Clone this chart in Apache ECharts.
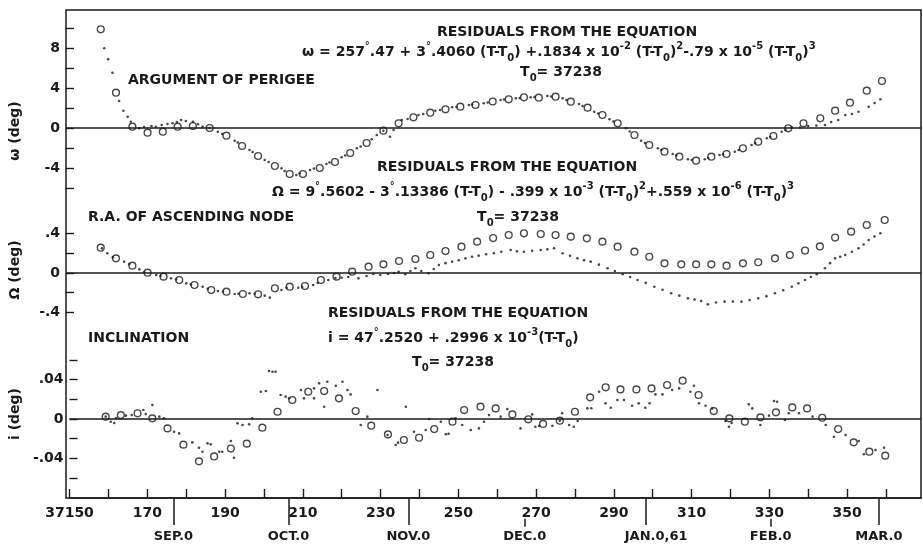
<!DOCTYPE html>
<html><head><meta charset="utf-8">
<script src="https://cdn.jsdelivr.net/npm/echarts@6/dist/echarts.min.js"></script>
<style>html,body{margin:0;padding:0;background:#fff}#c{width:923px;height:550px}</style>
</head><body><div id="c"></div>
<script>
// ---------- data ----------
const omegaCircles = [[158.9,9.87],[162.8,3.53],[167.0,0.13],[170.9,-0.47],[174.8,-0.37],[178.6,0.13],[182.5,0.2],[186.8,0.0],[191.1,-0.77],[195.1,-1.8],[199.2,-2.8],[203.5,-3.8],[207.3,-4.6],[210.7,-4.6],[215.0,-4.0],[218.9,-3.4],[222.8,-2.5],[227.0,-1.5],[231.3,-0.27],[235.2,0.47],[239.0,1.07],[243.3,1.53],[247.2,1.87],[251.0,2.13],[254.9,2.3],[259.3,2.65],[263.4,2.87],[267.3,3.07],[271.1,3.03],[275.4,3.13],[279.3,2.63],[283.6,2.03],[287.4,1.3],[291.3,0.47],[295.6,-0.7],[299.4,-1.7],[303.3,-2.37],[307.1,-2.87],[311.4,-3.27],[315.3,-2.87],[319.2,-2.6],[323.4,-2.03],[327.3,-1.37],[331.2,-0.8],[335.0,-0.03],[338.9,0.47],[343.2,0.97],[347.0,1.73],[350.8,2.53],[355.1,3.73],[359.0,4.7]];
const omegaDots = [[159.8,7.97],[160.8,6.87],[161.9,5.53],[163.6,2.7],[164.7,1.73],[165.8,1.13],[166.6,0.63],[168.8,-0.03],[170.0,0.1],[171.9,0.2],[173.0,0.13],[174.5,0.3],[176.0,0.4],[177.3,0.47],[178.4,0.6],[179.5,0.8],[180.7,0.7],[182.5,0.63],[183.8,0.37],[185.0,0.13],[186.8,0.0],[188.9,-0.37],[190.0,-0.6],[193.2,-1.27],[194.0,-1.45],[197.0,-2.2],[197.8,-2.4],[200.9,-3.2],[201.9,-3.4],[205.2,-4.03],[206.0,-4.3],[209.0,-4.7],[209.8,-4.55],[212.5,-4.2],[213.5,-4.05],[216.7,-3.6],[217.5,-3.45],[220.6,-2.93],[221.5,-2.75],[224.5,-2.03],[225.5,-1.85],[228.3,-1.13],[229.6,-0.7],[231.3,-0.27],[233.0,-0.87],[233.9,-0.2],[236.0,0.8],[237.5,0.9],[240.3,1.3],[241.5,1.4],[244.6,1.73],[245.8,1.8],[248.9,2.07],[250.0,2.1],[253.2,2.3],[254.0,2.35],[257.0,2.47],[258.0,2.55],[261.3,2.8],[262.2,2.85],[265.2,2.97],[266.2,3.0],[269.0,3.07],[270.0,3.1],[273.3,3.2],[274.3,3.15],[277.2,2.97],[278.2,2.8],[281.4,2.4],[282.3,2.2],[285.3,1.63],[286.3,1.45],[289.2,0.87],[290.2,0.65],[293.4,-0.03],[294.4,-0.35],[297.3,-1.27],[298.3,-1.5],[301.6,-2.03],[302.5,-2.2],[305.4,-2.6],[306.3,-2.75],[309.3,-3.13],[310.3,-3.2],[313.6,-3.13],[314.5,-3.0],[317.4,-2.7],[318.3,-2.65],[321.3,-2.37],[322.3,-2.2],[325.6,-1.7],[326.5,-1.5],[329.5,-1.03],[330.4,-0.9],[333.3,-0.37],[334.3,-0.2],[335.9,0.07],[338.0,0.05],[340.1,0.2],[342.2,0.25],[344.4,0.3],[346.0,0.6],[347.8,0.8],[349.6,1.3],[351.3,1.4],[353.0,1.63],[355.6,2.13],[357.1,2.5],[358.6,2.87]];

const nodeCircles = [[158.9,0.257],[162.8,0.149],[167.0,0.074],[170.9,0.003],[175.0,-0.037],[179.0,-0.071],[182.9,-0.122],[187.2,-0.173],[191.1,-0.19],[195.3,-0.213],[199.2,-0.216],[203.5,-0.155],[207.3,-0.139],[211.2,-0.132],[215.3,-0.071],[219.3,-0.037],[223.3,0.013],[227.5,0.064],[231.3,0.088],[235.3,0.122],[239.5,0.142],[243.3,0.183],[247.2,0.223],[251.3,0.267],[255.3,0.318],[259.4,0.355],[263.4,0.386],[267.3,0.403],[271.6,0.396],[275.4,0.386],[279.3,0.369],[283.4,0.352],[287.4,0.318],[291.3,0.267],[295.6,0.216],[299.4,0.165],[303.3,0.098],[307.6,0.088],[311.4,0.088],[315.3,0.088],[319.2,0.074],[323.4,0.098],[327.3,0.109],[331.6,0.149],[335.4,0.183],[339.3,0.228],[343.1,0.27],[347.0,0.36],[351.1,0.42],[355.1,0.487],[359.7,0.538]];
const nodeDots = [[159.2,0.25],[160.6,0.2],[162.0,0.16],[164.9,0.115],[166.2,0.09],[168.8,0.037],[170.0,0.01],[173.1,-0.02],[174.2,-0.03],[176.9,-0.054],[178.2,-0.065],[180.8,-0.105],[182.0,-0.115],[185.0,-0.139],[186.3,-0.16],[188.9,-0.183],[190.2,-0.188],[193.2,-0.213],[194.2,-0.21],[197.0,-0.206],[198.3,-0.21],[200.9,-0.23],[202.2,-0.25],[205.2,-0.173],[206.5,-0.15],[209.5,-0.149],[210.5,-0.14],[213.3,-0.122],[214.5,-0.1],[217.2,-0.071],[219.0,-0.05],[220.6,-0.048],[222.3,-0.04],[224.9,-0.054],[227.0,-0.03],[228.7,-0.01],[230.5,-0.02],[232.5,-0.01],[234.0,0.0],[235.2,0.013],[236.9,-0.013],[238.2,0.02],[239.5,0.048],[241.0,0.02],[242.9,-0.003],[244.2,0.04],[245.5,0.081],[247.2,0.1],[248.9,0.115],[250.6,0.13],[252.3,0.149],[254.0,0.165],[255.7,0.176],[257.6,0.19],[259.6,0.2],[261.5,0.215],[263.9,0.234],[265.5,0.22],[267.3,0.216],[269.4,0.225],[271.6,0.234],[273.3,0.24],[275.0,0.251],[277.2,0.2],[279.1,0.175],[281.0,0.149],[282.7,0.13],[284.4,0.115],[286.5,0.085],[288.7,0.048],[290.6,0.02],[292.6,-0.013],[294.5,-0.04],[296.4,-0.071],[298.5,-0.1],[300.7,-0.139],[302.8,-0.17],[305.0,-0.206],[307.1,-0.23],[309.3,-0.257],[311.0,-0.27],[312.7,-0.284],[314.4,-0.318],[316.5,-0.3],[318.7,-0.291],[320.8,-0.29],[323.0,-0.291],[325.1,-0.275],[327.3,-0.257],[329.4,-0.235],[331.6,-0.206],[333.7,-0.175],[335.9,-0.139],[337.6,-0.105],[339.3,-0.071],[340.8,-0.04],[342.3,-0.013],[344.4,0.048],[345.7,0.1],[347.0,0.149],[348.3,0.165],[349.6,0.183],[351.3,0.215],[353.0,0.251],[354.3,0.29],[355.6,0.335],[357.1,0.37],[358.6,0.403]];

const inclCircles = [[159.3,0.0024],[163.2,0.004],[167.5,0.0058],[171.3,0.0007],[175.2,-0.0095],[179.3,-0.026],[183.3,-0.043],[187.2,-0.038],[191.5,-0.030],[195.6,-0.025],[199.6,-0.0088],[203.5,0.0074],[207.3,0.0193],[211.4,0.0277],[215.5,0.0284],[219.3,0.021],[223.6,0.0081],[227.6,-0.0068],[231.9,-0.0156],[236.0,-0.0213],[239.9,-0.019],[243.8,-0.0102],[248.5,-0.0027],[251.5,0.0091],[255.7,0.0125],[259.6,0.0108],[263.9,0.0047],[268.0,-0.0003],[271.8,-0.005],[276.1,-0.0017],[280.0,0.0074],[283.9,0.022],[287.9,0.0322],[291.7,0.0301],[295.8,0.0301],[299.7,0.0311],[303.7,0.0345],[307.7,0.0389],[311.8,0.0244],[315.7,0.0081],[319.7,0.0007],[323.7,-0.0027],[327.7,0.0017],[331.7,0.0068],[335.9,0.0118],[339.7,0.0108],[343.6,0.0013],[347.7,-0.0102],[351.7,-0.0237],[355.7,-0.0332],[359.8,-0.0372]];
const inclDots = [[159.3,0.0024],[160.6,-0.0027],[161.5,-0.004],[162.0,0.001],[164.5,0.0034],[166.0,0.004],[169.0,0.0091],[169.6,0.005],[171.3,0.0142],[173.1,0.0024],[174.3,0.0007],[176.9,-0.0129],[178.2,-0.0146],[181.6,-0.0237],[183.3,-0.0291],[184.2,-0.0332],[185.5,-0.0247],[186.3,-0.0257],[188.5,-0.0332],[189.3,-0.0332],[191.5,-0.0223],[192.3,-0.0393],[193.2,-0.0044],[194.5,-0.0061],[196.2,-0.0054],[197.0,0.0007],[199.2,0.0277],[200.5,0.0284],[201.3,0.0487],[202.2,0.048],[203.0,0.048],[204.3,0.0244],[205.6,0.0227],[206.5,0.021],[209.5,0.0294],[210.3,0.021],[212.9,0.0311],[212.9,0.021],[214.2,0.0362],[215.5,0.0125],[216.3,0.0379],[218.5,0.0338],[220.2,0.0379],[221.5,0.0294],[222.3,0.025],[224.9,-0.0061],[226.6,0.0024],[229.2,0.0294],[231.8,-0.0162],[233.9,-0.0264],[234.5,-0.024],[236.5,0.0125],[238.6,-0.0129],[241.6,-0.0112],[242.5,0],[245.5,-0.0027],[246.8,-0.0155],[247.5,-0.015],[249.3,0.0007],[251.0,-0.0061],[253.2,-0.0112],[255.3,-0.0095],[256.6,-0.0027],[257.9,0.004],[260.9,0.0024],[262.6,0.0102],[266.0,-0.0095],[269.0,0.0047],[269.8,-0.0078],[270.8,-0.007],[274.2,-0.0068],[276.1,-0.0017],[276.7,0.0058],[278.5,-0.0061],[279.7,-0.0078],[280.7,-0.002],[283.2,0.0108],[284.2,0.011],[286.2,0.0277],[287.9,0.0159],[289.2,0.0115],[290.9,0.0193],[292.6,0.0193],[294.7,0.0135],[296.4,0.0159],[298.1,0.0115],[299.2,0.016],[300.7,0.025],[302.5,0.025],[305.0,0.0294],[306.8,0.0311],[309.7,0.0277],[310.6,0.0338],[311.9,0.0159],[313.6,0.0135],[315.3,0.0108],[318.7,-0.002],[319.6,-0.0078],[320.3,-0.004],[324.7,0.0149],[325.6,0.0108],[327.7,-0.0061],[329.9,0.0034],[331.2,0.0183],[332.0,0.0176],[334.0,-0.001],[335.0,0.0058],[337.6,0.0058],[341.1,0.0024],[344.5,-0.0061],[346.6,-0.018],[349.6,-0.0162],[353.0,-0.0223],[354.3,-0.0358],[357.3,-0.0315],[359.5,-0.0291]];

// axes / ticks
const xMin = 150, xMax = 369;
const xTicks = [150,160,170,180,190,200,210,220,230,240,250,260,270,280,290,300,310,320,330,340,350,360];
const xLabels = [150,170,190,210,230,250,270,290,310,330,350];
const omegaTicks = [-6,-4,-2,0,2,4,6,8,10];
const omegaLabels = [-4,0,4,8];
const nodeTicks = [-0.4,-0.2,0,0.2,0.4];
const nodeLabels = [-0.4,0,0.4];
const inclTicks = [-0.06,-0.04,-0.02,0,0.02,0.04,0.06];
const inclLabels = [-0.04,0,0.04];
const monthPos = [177.5,207,237.7,267.5,298.6,330.5,358.2];
const monthNames = ['SEP.0','OCT.0','NOV.0','DEC.0','JAN.0,61','FEB.0','MAR.0'];
const monthLong = [true,true,true,false,true,false,true];

// ---------- chart ----------
const INK = '#1a1a1a';
const FONT = "'DejaVu Sans', sans-serif";
const chart = echarts.init(document.getElementById('c'), null, {renderer:'canvas'});

function fmtDec(v){ if (v === 0) return '0'; const s = String(Math.abs(v)).replace(/^0/, ''); return (v < 0 ? '-' : '') + s; }
const lblStyle = {color: INK, fontFamily: FONT, fontWeight: 'bold', fontSize: 14};

function yAxisFor(i, min, max, ticks, labels, name){
  return {
    gridIndex: i, type: 'value', min: min, max: max,
    axisLine: {show: false},
    axisTick: {show: true, inside: true, length: 8, customValues: ticks, lineStyle: {color: INK, width: 1.4}},
    axisLabel: Object.assign({customValues: labels, margin: 6, formatter: fmtDec}, lblStyle),
    splitLine: {show: false},
    name: name, nameLocation: 'middle', nameGap: 44, nameRotate: 90,
    nameTextStyle: {color: INK, fontFamily: FONT, fontWeight: 'bold', fontSize: 14}
  };
}
function hiddenX(i){ return {gridIndex: i, type: 'value', min: xMin, max: xMax, show: false}; }

const zeroLine = {silent: true, symbol: ['none','none'], label: {show: false},
  lineStyle: {color: INK, width: 1.5, type: 'solid'}, data: [{yAxis: 0}]};

function dotSeries(i, data){
  return {type: 'scatter', xAxisIndex: i, yAxisIndex: i, data: data, symbol: 'circle', symbolSize: 2.6,
    itemStyle: {color: INK}, silent: true, z: 2};
}
function circleSeries(i, data){
  return {type: 'scatter', xAxisIndex: i, yAxisIndex: i, data: data, symbol: 'circle', symbolSize: 6.8,
    itemStyle: {color: 'rgba(255,255,255,0)', borderColor: INK, borderWidth: 1.4}, silent: true, z: 3,
    markLine: zeroLine};
}

const monthLines = monthPos.map((x, k) => monthLong[k]
  ? [{coord: [x, 0]}, {coord: [x, 0.675]}]
  : [{coord: [x, 0.52]}, {coord: [x, 0.72]}]);
const monthLabelData = monthPos.map((x, k) => ({
  value: [x, 0.975], name: monthNames[k],
  label: monthNames[k].indexOf(',') >= 0 ? {offset: [10, 0]} : {}
}));

const sup = {fontSize: 10, fontWeight: 'bold', fontFamily: FONT, fill: INK, verticalAlign: 'top', lineHeight: 22};
const sub = {fontSize: 10, fontWeight: 'bold', fontFamily: FONT, fill: INK, verticalAlign: 'bottom', lineHeight: 22};
const nrm = {fontSize: 14, fontWeight: 'bold', fontFamily: FONT, fill: INK, verticalAlign: 'middle', lineHeight: 22};
const rich = {n: nrm, p: sup, s: sub, d: sup};
function txt(x, y, text, align){
  return {type: 'text', x: x, y: y, silent: true,
    style: {text: text, rich: rich, font: "bold 14px 'DejaVu Sans'", fill: INK, align: align || 'left', verticalAlign: 'middle'}};
}

const option = {
  animation: false,
  backgroundColor: '#fff',
  grid: [
    {left: 66, right: 2, top: 10, height: 242},
    {left: 66, right: 2, top: 200, height: 140},
    {left: 66, right: 2, top: 330, height: 168},
    {left: 66, right: 2, top: 10, bottom: 52, show: true, borderColor: INK, borderWidth: 1.5, backgroundColor: 'rgba(0,0,0,0)'},
    {left: 66, right: 2, top: 498, height: 40}
  ],
  xAxis: [
    hiddenX(0), hiddenX(1),
    {gridIndex: 2, type: 'value', min: xMin, max: xMax, position: 'bottom',
      axisLine: {show: true, onZero: false, lineStyle: {color: INK, width: 1.5}},
      axisTick: {show: true, inside: true, length: 9, customValues: xTicks, lineStyle: {color: INK, width: 1.4}},
      axisLabel: Object.assign({customValues: xLabels, margin: 8, formatter: v => v === 150 ? '37150' : String(v)}, lblStyle),
      splitLine: {show: false}},
    hiddenX(3), hiddenX(4)
  ],
  yAxis: [
    yAxisFor(0, -12.4, 11.8, omegaTicks, omegaLabels, 'ω (deg)'),
    yAxisFor(1, -0.680, 0.741, nodeTicks, nodeLabels, 'Ω (deg)'),
    yAxisFor(2, -0.0802, 0.0904, inclTicks, inclLabels, 'i (deg)'),
    {gridIndex: 3, type: 'value', min: 0, max: 1, show: false},
    {gridIndex: 4, type: 'value', min: 0, max: 1, inverse: true, show: false}
  ],
  series: [
    dotSeries(0, omegaDots), circleSeries(0, omegaCircles),
    dotSeries(1, nodeDots), circleSeries(1, nodeCircles),
    dotSeries(2, inclDots), circleSeries(2, inclCircles),
    {type: 'scatter', xAxisIndex: 4, yAxisIndex: 4, data: monthLabelData, symbol: 'circle', symbolSize: 0,
      itemStyle: {color: INK, opacity: 1}, silent: true,
      label: {show: true, position: 'inside', formatter: p => p.name, color: INK, opacity: 1, fontFamily: FONT, fontWeight: 'bold', fontSize: 13},
      markLine: {silent: true, symbol: ['none','none'], label: {show: false},
        lineStyle: {color: INK, width: 1.5, type: 'solid'}, data: monthLines}}
  ],
  graphic: [
    txt(567, 32, '{n|RESIDUALS FROM THE EQUATION}', 'center'),
    txt(302, 52, '{n|ω = 257}{d|°}{n|.47 + 3}{d|°}{n|.4060 (T-T}{s|0}{n|) +.1834 x 10}{p|-2}{n| (T-T}{s|0}{n|)}{p|2}{n|-.79 x 10}{p|-5}{n| (T-T}{s|0}{n|)}{p|3}'),
    txt(561, 72, '{n|T}{s|0}{n|= 37238}', 'center'),
    txt(128, 80, '{n|ARGUMENT OF PERIGEE}'),
    txt(507, 167, '{n|RESIDUALS FROM THE EQUATION}', 'center'),
    txt(272, 192, '{n|Ω = 9}{d|°}{n|.5602 - 3}{d|°}{n|.13386 (T-T}{s|0}{n|) - .399 x 10}{p|-3}{n| (T-T}{s|0}{n|)}{p|2}{n|+.559 x 10}{p|-6}{n| (T-T}{s|0}{n|)}{p|3}'),
    txt(518, 217, '{n|T}{s|0}{n|= 37238}', 'center'),
    txt(88, 217, '{n|R.A. OF ASCENDING NODE}'),
    txt(88, 338, '{n|INCLINATION}'),
    txt(458, 313, '{n|RESIDUALS FROM THE EQUATION}', 'center'),
    txt(328, 338, '{n|i = 47}{d|°}{n|.2520 + .2996 x 10}{p|-3}{n|(T-T}{s|0}{n|)}'),
    txt(453, 362, '{n|T}{s|0}{n|= 37238}', 'center')
  ]
};
chart.setOption(option);
</script></body></html>
